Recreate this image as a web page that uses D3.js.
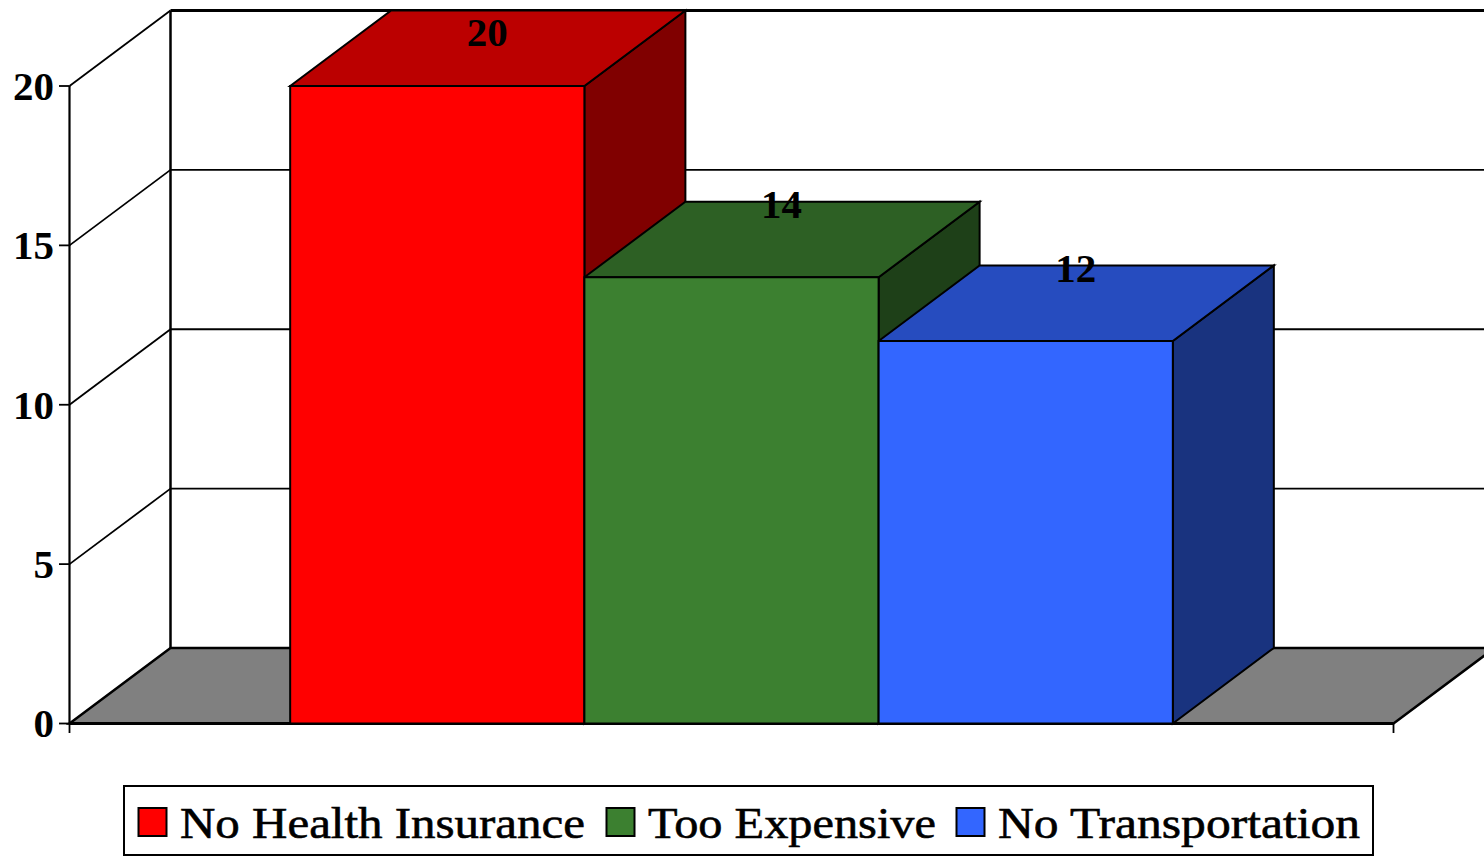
<!DOCTYPE html>
<html><head><meta charset="utf-8">
<script src="https://cdnjs.cloudflare.com/ajax/libs/d3/7.8.5/d3.min.js"></script>
<style>html,body{margin:0;padding:0;background:#fff;overflow:hidden}svg{display:block}
text{font-family:"Liberation Serif",serif;fill:#000}</style></head><body><svg id="c" width="1484" height="856"></svg>
<script>
const categories = ["No Health Insurance","Too Expensive","No Transportation"];
const values = [20,14,12];
const frontColors = ["#ff0000","#3c8030","#3366ff"];
const topColors = ["#bb0000","#2d6024","#264cbf"];
const sideColors = ["#800000","#1e4018","#19337f"];
const yTicks = [0,5,10,15,20];
const legendSpans = [[180,405],[648,288],[998,362]];
const legendSwatches = [138,606,956];

const DX=101, DY=-75.5;
const svg=d3.select("#c");
const y=d3.scaleLinear().domain([0,20]).range([723.5,86]);
const x=d3.scaleBand().domain(categories).range([69.5,1393.5]).paddingInner(0).paddingOuter(0.75);
const line=d3.line();
const poly=(pts,fill,sw=2)=>svg.append("path").attr("d",line(pts)+"Z").attr("fill",fill).attr("stroke","#000").attr("stroke-width",sw).attr("stroke-linejoin","miter");
const seg=(a,b,sw=1.8)=>svg.append("path").attr("d",line([a,b])).attr("fill","none").attr("stroke","#000").attr("stroke-width",sw);
const xL=x.range()[0], xR=x.range()[1];

poly([[xL,y(0)],[xL+DX,y(0)+DY],[xR+DX,y(0)+DY],[xR,y(0)]],"#808080",2.5);
yTicks.forEach(t=>{ if(t>0){
  seg([xL+DX,y(t)+DY],[xR+DX,y(t)+DY], t===20?3:1.8);
  seg([xL,y(t)],[xL+DX,y(t)+DY], 1.8);
}});
seg([xL+DX,y(20)+DY],[xL+DX,y(0)+DY],2.5);
seg([xL,y(20)],[xL,y(0)],2.2);
yTicks.forEach(t=>{
  seg([59,y(t)],[xL,y(t)],1.8);
  svg.append("text").attr("x",54).attr("y",y(t)).attr("dy","0.34em").attr("text-anchor","end")
    .attr("font-size",41).attr("font-weight","bold").text(t);
});
seg([xL,y(0)],[xL,733],1.8);
seg([xR,y(0)],[xR,733],1.8);
seg([xL,y(0)],[xR,y(0)],3);
categories.forEach((c,i)=>{
  const l=x(c), r=l+x.bandwidth(), t=y(values[i]), b=y(0);
  poly([[r,b],[r+DX,b+DY],[r+DX,t+DY],[r,t]],sideColors[i]);
  poly([[l,t],[l+DX,t+DY],[r+DX,t+DY],[r,t]],topColors[i]);
});
categories.forEach((c,i)=>{
  const l=x(c), r=l+x.bandwidth(), t=y(values[i]), b=y(0);
  poly([[l,t],[r,t],[r,b],[l,b]],frontColors[i]);
});
categories.forEach((c,i)=>{
  svg.append("text").attr("x",x(c)+x.bandwidth()/2+DX/2-0.5).attr("y",Math.max(y(values[i])-73,32))
    .attr("dy","0.34em").attr("text-anchor","middle").attr("font-size",41).attr("font-weight","bold").text(values[i]);
});
svg.append("rect").attr("x",124).attr("y",786).attr("width",1249).attr("height",69).attr("fill","#fff").attr("stroke","#000").attr("stroke-width",2);
categories.forEach((c,i)=>{
  svg.append("rect").attr("x",legendSwatches[i]+0.5).attr("y",808).attr("width",28).attr("height",28)
    .attr("fill",frontColors[i]).attr("stroke","#000").attr("stroke-width",2);
  svg.append("text").attr("x",legendSpans[i][0]).attr("y",838).attr("font-size",44)
    .attr("textLength",legendSpans[i][1]).attr("lengthAdjust","spacingAndGlyphs")
    .attr("stroke","#000").attr("stroke-width",0.6).text(c);
});
</script></body></html>
